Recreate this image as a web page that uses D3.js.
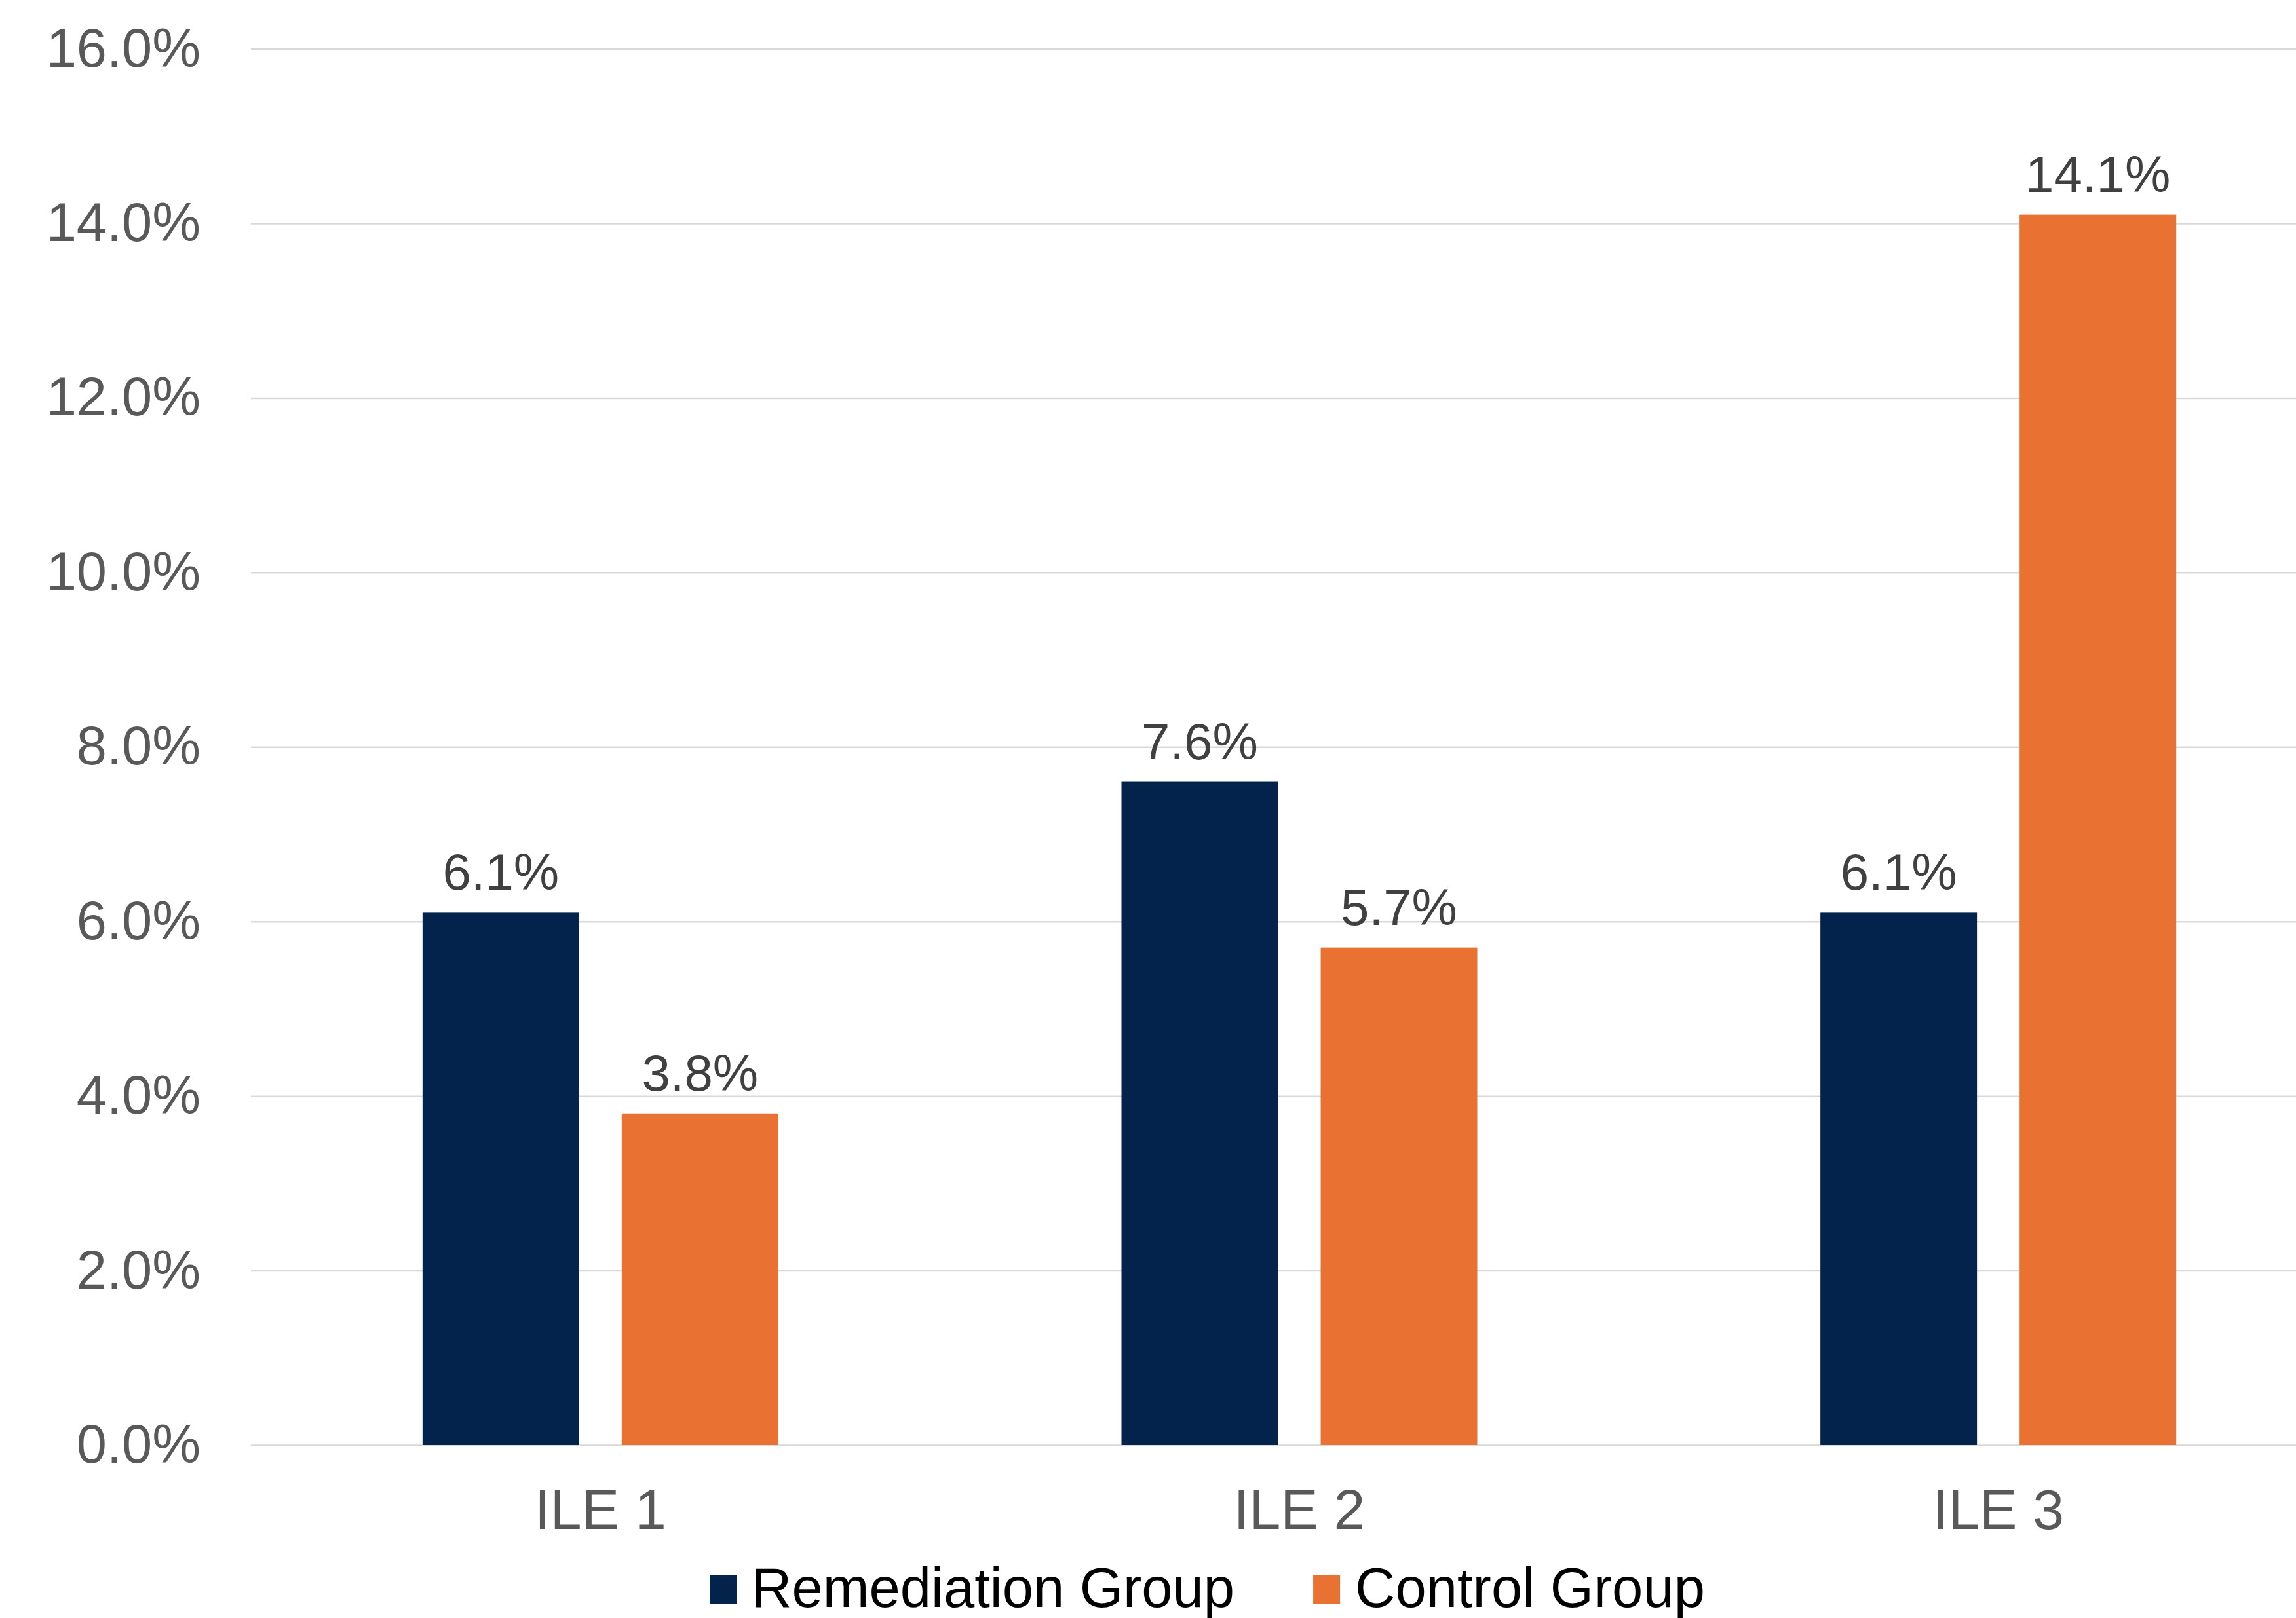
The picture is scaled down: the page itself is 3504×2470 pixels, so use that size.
<!DOCTYPE html>
<meta charset="utf-8">

<style>

body {
  margin: 0;
  background: white;
}

svg.chart {
  background: white;
  display: block;
}

svg.chart text {
  font-family: "Liberation Sans", Arial, sans-serif;
}

svg.chart .y.axis text {
  font-size: 83px;
  fill: #595959;
}

svg.chart .x.axis text {
  font-size: 86px;
  fill: #595959;
}

svg.chart .grid line {
  stroke: #d9d9d9;
  stroke-width: 2.5px;
}

svg.chart text.value {
  font-size: 78px;
  fill: #404040;
  text-anchor: middle;
}

svg.chart .legend text {
  font-size: 85px;
  fill: #000000;
}

</style>


<div>
  <svg class="chart" width="3504" height="2470"></svg>
</div>


<script src="https://d3js.org/d3.v7.min.js"></script>

<script>

// data
var categories = ["ILE 1", "ILE 2", "ILE 3"];
var seriesNames = ["Remediation Group", "Control Group"];
var remediation = [6.1, 7.6, 6.1];
var control = [3.8, 5.7, 14.1];
var yTicks = [0, 2, 4, 6, 8, 10, 12, 14, 16];

var colors = ["#04234c", "#e97132"];

var svg = d3.select("svg.chart");

// plot area (the chart runs a bit past the right edge of the picture)
var plotLeft = 383, plotRight = 3583, plotTop = 74.5, plotBottom = 2206;

var yScale = d3.scaleLinear()
  .domain([0, 16])
  .range([plotBottom, plotTop]);

var xScale = d3.scaleBand()
  .domain(categories)
  .range([plotLeft, plotRight])
  .padding(0);

var groupWidth = 543;
var innerScale = d3.scaleBand()
  .domain(seriesNames)
  .range([(xScale.bandwidth() - groupWidth) / 2, (xScale.bandwidth() + groupWidth) / 2])
  .paddingInner(0.214)
  .paddingOuter(0);

// gridlines
svg.append("g")
  .attr("class", "grid")
  .attr("transform", `translate(${plotLeft},0)`)
  .call(d3.axisLeft(yScale).tickValues(yTicks).tickSize(-(plotRight - plotLeft)).tickFormat(""))
  .call(function(g) { g.select(".domain").remove(); });

// y axis labels
svg.append("g")
  .attr("class", "y axis")
  .attr("transform", `translate(${plotLeft},0)`)
  .call(d3.axisLeft(yScale)
    .tickValues(yTicks)
    .tickSize(0)
    .tickPadding(77)
    .tickFormat(function(d) { return d.toFixed(1) + "%"; }))
  .call(function(g) {
    g.select(".domain").remove();
    g.selectAll("text").attr("dy", "0.32em").attr("font-family", null).attr("font-size", null);
  });

// x axis labels
svg.append("g")
  .attr("class", "x axis")
  .attr("transform", `translate(0,${plotBottom})`)
  .call(d3.axisBottom(xScale).tickSize(0).tickPadding(67))
  .call(function(g) {
    g.select(".domain").remove();
    g.selectAll("text").attr("dy", "0.71em").attr("font-family", null).attr("font-size", null);
  });

// bars
var rows = categories.map(function(name, i) {
  return {name: name, values: [
    {series: seriesNames[0], value: remediation[i], color: colors[0]},
    {series: seriesNames[1], value: control[i], color: colors[1]}
  ]};
});

var groups = svg.selectAll(".group")
  .data(rows)
  .enter().append("g")
    .attr("class", "group")
    .attr("transform", function(d) { return `translate(${xScale(d.name)},0)`; });

groups.selectAll("rect")
  .data(function(d) { return d.values; })
  .enter().append("rect")
    .attr("x", function(d) { return innerScale(d.series); })
    .attr("y", function(d) { return yScale(d.value); })
    .attr("width", innerScale.bandwidth())
    .attr("height", function(d) { return plotBottom - yScale(d.value); })
    .attr("fill", function(d) { return d.color; });

groups.selectAll("text.value")
  .data(function(d) { return d.values; })
  .enter().append("text")
    .attr("class", "value")
    .attr("x", function(d) { return innerScale(d.series) + innerScale.bandwidth() / 2; })
    .attr("y", function(d) { return yScale(d.value) - 35; })
    .text(function(d) { return d.value.toFixed(1) + "%"; });

// legend
var legend = svg.append("g")
  .attr("class", "legend")
  .attr("transform", "translate(1083,2453)");

var lx = 0;
seriesNames.forEach(function(name, i) {
  var item = legend.append("g").attr("transform", `translate(${lx},0)`);
  item.append("rect")
    .attr("x", 0)
    .attr("y", -48)
    .attr("width", 41)
    .attr("height", 43)
    .attr("fill", colors[i]);
  var t = item.append("text")
    .attr("x", 64)
    .attr("y", 0)
    .text(name);
  lx += 64 + t.node().getComputedTextLength() + 120;
});

</script>
